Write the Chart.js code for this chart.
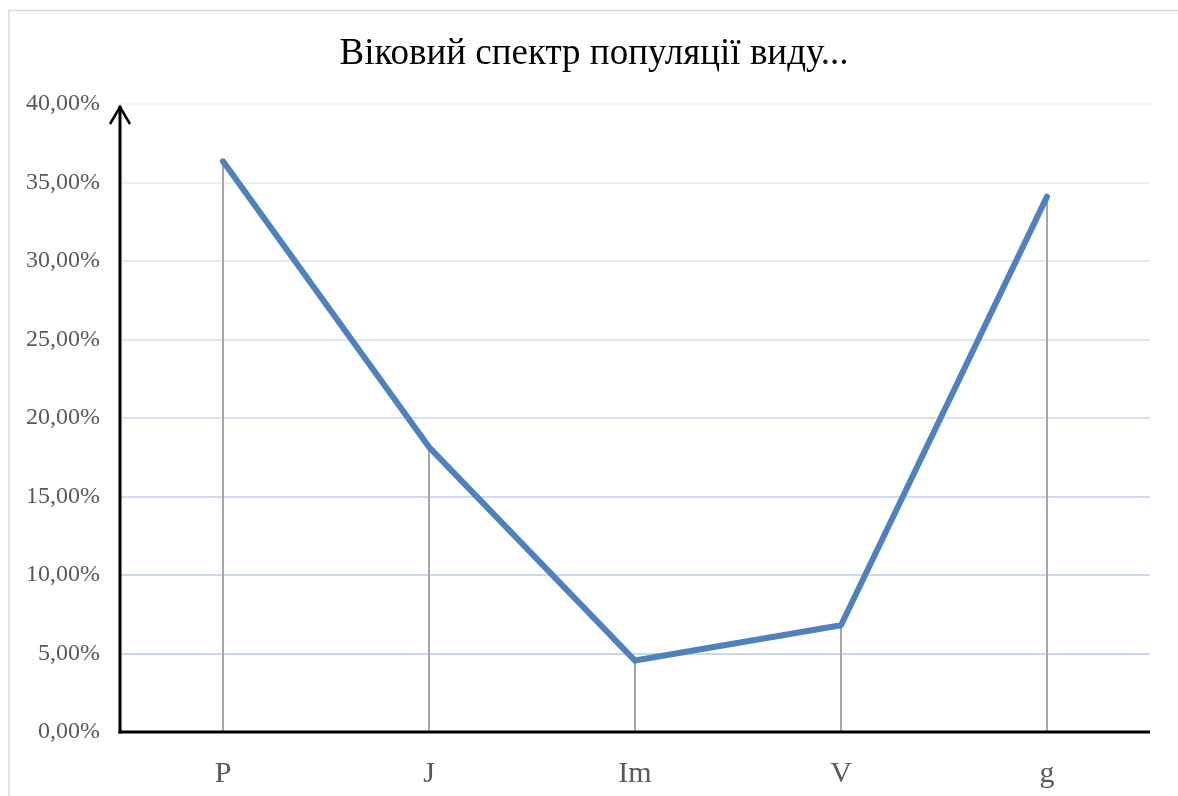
<!DOCTYPE html>
<html>
<head>
<meta charset="utf-8">
<script src="https://cdn.jsdelivr.net/npm/chart.js@4.4.0/dist/chart.umd.min.js"></script>
<style>
html,body{margin:0;padding:0;background:#fff;}
#wrap{width:1178px;height:796px;position:relative;}
</style>
</head>
<body>
<div id="wrap"><canvas id="c" width="1178" height="796"></canvas></div>
<script>
const categories = ['P', 'J', 'Im', 'V', 'g'];
const shares = [36.35, 18.15, 4.55, 6.8, 34.1];
const yTicks = [0, 5, 10, 15, 20, 25, 30, 35, 40];
const titleText = 'Віковий спектр популяції виду...';

const gridColors = ['#000000', '#c9d8ee', '#cbd9ee', '#d0dcf0', '#d5e0f1', '#dbe4f3', '#e1e9f5', '#e9eef8', '#f1f5fb'];

const fmt = v => v.toFixed(2).replace('.', ',') + '%';
const SERIF = '"Liberation Serif", "Times New Roman", serif';

const frame = {
  id: 'frame',
  beforeDraw(chart) {
    const ctx = chart.ctx;
    ctx.save();
    ctx.fillStyle = '#fff';
    ctx.fillRect(0, 0, chart.width, chart.height);
    ctx.strokeStyle = '#d9d9d9';
    ctx.lineWidth = 1.5;
    ctx.strokeRect(9, 10.5, 1400, 1000);
    ctx.restore();
  },
  afterDraw(chart) {
    const ctx = chart.ctx;
    ctx.save();
    ctx.fillStyle = '#000';
    ctx.font = '37px ' + SERIF;
    ctx.textAlign = 'center';
    ctx.textBaseline = 'alphabetic';
    ctx.fillText(titleText, 594, 64);
    ctx.restore();
  }
};

const dropLines = {
  id: 'dropLines',
  beforeDatasetsDraw(chart) {
    const ctx = chart.ctx;
    const xs = chart.scales.x, ys = chart.scales.y;
    const ds = chart.data.datasets[0].data;
    ctx.save();
    ctx.strokeStyle = '#a6a6a6';
    ctx.lineWidth = 2;
    ds.forEach((v, i) => {
      const x = Math.round(xs.getPixelForValue(i));
      ctx.beginPath();
      ctx.moveTo(x, ys.getPixelForValue(v));
      ctx.lineTo(x, ys.getPixelForValue(0));
      ctx.stroke();
    });
    ctx.restore();
  },
  afterDatasetsDraw(chart) {
    const ctx = chart.ctx;
    const xs = chart.scales.x, ys = chart.scales.y;
    const x0 = xs.left, y0 = ys.getPixelForValue(0), yTop = ys.getPixelForValue(40);
    ctx.save();
    ctx.strokeStyle = '#000';
    ctx.lineWidth = 3;
    ctx.lineCap = 'butt';
    ctx.beginPath();
    ctx.moveTo(x0 - 1.5, y0);
    ctx.lineTo(xs.right, y0);
    ctx.stroke();
    ctx.beginPath();
    ctx.moveTo(x0, y0 + 1.5);
    ctx.lineTo(x0, yTop + 2);
    ctx.stroke();
    ctx.lineWidth = 2.5;
    ctx.lineJoin = 'miter';
    ctx.beginPath();
    ctx.moveTo(x0 - 10, yTop + 20);
    ctx.lineTo(x0, yTop + 3);
    ctx.lineTo(x0 + 10, yTop + 20);
    ctx.stroke();
    ctx.restore();
  }
};

new Chart(document.getElementById('c'), {
  type: 'line',
  data: {
    labels: categories,
    datasets: [{
      data: shares,
      borderColor: '#4f81bd',
      borderWidth: 6,
      pointRadius: 0,
      borderCapStyle: 'round',
      borderJoinStyle: 'round',
      tension: 0,
      fill: false
    }]
  },
  options: {
    responsive: false,
    animation: false,
    devicePixelRatio: 1,
    layout: { padding: { left: 6, right: 28, top: 104, bottom: -20 } },
    plugins: {
      legend: { display: false },
      tooltip: { enabled: false },
      title: { display: false }
    },
    scales: {
      x: {
        offset: true,
        grid: { display: false, drawTicks: false },
        border: { display: false },
        ticks: {
          color: '#595959',
          padding: 24,
          font: { family: SERIF, size: 30 }
        }
      },
      y: {
        min: 0,
        max: 40,
        afterBuildTicks(scale) { scale.ticks = yTicks.map(v => ({ value: v })); },
        grid: {
          drawTicks: false,
          lineWidth: 2,
          color: ctx => gridColors[ctx.index] || '#dbe4f3'
        },
        border: { display: false },
        ticks: {
          color: '#595959',
          padding: 20,
          callback: v => fmt(v),
          font: { family: SERIF, size: 24 }
        }
      }
    }
  },
  plugins: [frame, dropLines]
});
</script>
</body>
</html>
